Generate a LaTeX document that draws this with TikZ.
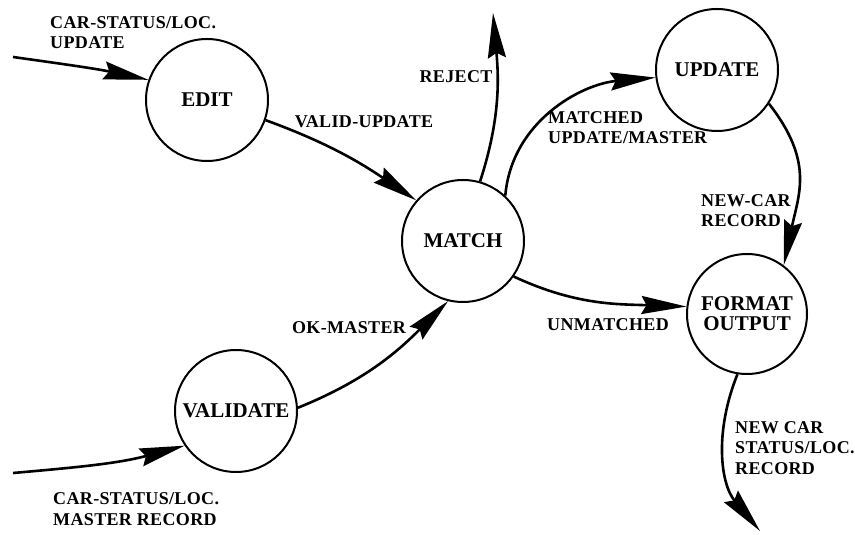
\documentclass[tikz,border=0pt]{standalone}
\usepackage{fontspec}
\setmainfont{Liberation Serif}
\newfontfamily\lblfont[LetterSpace=2]{Liberation Serif}
\usetikzlibrary{arrows.meta}
\tikzset{
  proc/.style={circle, draw, line width=2pt, minimum size=122pt, inner sep=0pt,
    font=\fontsize{21}{20}\selectfont\bfseries, align=center},
  lbl/.style={inner sep=0pt, font=\lblfont\fontsize{18}{20.5}\selectfont\bfseries, align=left},
  flow/.style={line width=2.6pt, -{Stealth[length=45pt,width=18pt,inset=5pt]}}
}
\begin{document}
\begin{tikzpicture}[x=1pt,y=1pt]
\useasboundingbox (0,0) rectangle (855,535);
\node[proc] (edit) at (207,435) {EDIT};
\node[proc] (match) at (463,294) {MATCH};
\node[proc] (validate) at (236,124) {VALIDATE};
\node[proc] (update) at (717,465) {UPDATE};
\node[proc, minimum size=120pt] (format) at (747,221) {FORMAT\\OUTPUT};
\coordinate (in1) at (13,478);
\coordinate (in2) at (13,62);
\coordinate (rej) at (493,522);
\coordinate (out) at (760,4);
\node[lbl, anchor=west] (l1) at (50,502.5) {CAR-STATUS/LOC.\\UPDATE};
\node[lbl] (l2) at (364,413) {VALID-UPDATE};
\node[lbl] (l3) at (456,458) {REJECT};
\node[lbl, anchor=west] (l4) at (548,407.5) {MATCHED\\UPDATE/MASTER};
\node[lbl, anchor=west] (l5) at (701,324.5) {NEW-CAR\\RECORD};
\node[lbl] (l6) at (608,210) {UNMATCHED};
\node[lbl] (l7) at (349,207) {OK-MASTER};
\node[lbl, anchor=west] (l8) at (53,26) {CAR-STATUS/LOC.\\MASTER RECORD};
\node[lbl, anchor=west] (l9) at (735,87) {NEW CAR\\STATUS/LOC.\\RECORD};
\draw[flow] (in1) to[out=-8,in=168] (edit.161);
\draw[flow] (edit.-19) to[out=-20,in=146] (match.139);
\draw[flow] (validate.3) to[out=22,in=225] (match.256);
\draw[flow] (in2) to[out=5,in=195] (validate.214);
\draw[flow] (match.74) to[out=72,in=-85] (rej);
\draw[flow] (match.47) to[out=85,in=185] (update.187);
\draw[flow] (update.-33) to[out=-52,in=78,looseness=1.15] (format.53);
\draw[flow] (match.-35) to[out=-25,in=178] (format.173);
\draw[flow] (format.261) to[out=-112,in=130] (out);
\end{tikzpicture}
\end{document}
